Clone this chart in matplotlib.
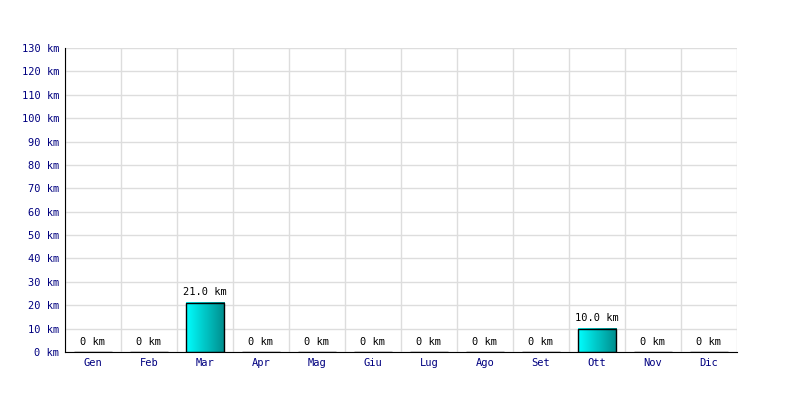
import matplotlib
matplotlib.use('Agg')
import matplotlib.pyplot as plt
import numpy as np

mesi = ['Gen', 'Feb', 'Mar', 'Apr', 'Mag', 'Giu', 'Lug', 'Ago', 'Set', 'Ott', 'Nov', 'Dic']
km = [0, 0, 21.0, 0, 0, 0, 0, 0, 0, 10.0, 0, 0]
yticks = list(range(0, 131, 10))

plt.rcParams['font.family'] = 'DejaVu Sans Mono'

fig = plt.figure(figsize=(8, 4), dpi=100)
ax = fig.add_axes([0.08125, 0.12, 0.84, 0.76])

x = np.arange(len(mesi))
larghezza = 0.68
bars = ax.bar(x, km, width=larghezza, facecolor='none', edgecolor='black', linewidth=1, zorder=3)

# riempimento sfumato ciano -> verde acqua
grad = np.linspace(0, 1, 256).reshape(1, -1)
cmap = matplotlib.colors.LinearSegmentedColormap.from_list('cy', ['#00ffff', '#008b8b'])
for b in bars:
    h = b.get_height()
    if h > 0:
        ax.imshow(grad, cmap=cmap, aspect='auto', zorder=2,
                  extent=[b.get_x(), b.get_x() + b.get_width(), 0, h])

for xi, v in zip(x, km):
    testo = '0 km' if v == 0 else f'{v:.1f} km'
    ax.annotate(testo, (xi, v), xytext=(0, 7.5), textcoords='offset points',
                ha='center', va='center', fontsize=7.5, color='black')

ax.set_xlim(-0.5, len(mesi) - 0.5)
ax.set_ylim(0, 130)
ax.set_xticks(x)
ax.set_xticklabels(mesi)
ax.set_xticks(np.arange(-0.5, len(mesi)), minor=True)
ax.set_yticks(yticks)
ax.set_yticklabels([f'{t} km' for t in yticks])
ax.tick_params(axis='both', length=0, labelsize=7.5, labelcolor='#000080', pad=4)
ax.tick_params(axis='x', which='minor', length=0)

ax.grid(axis='y', color='#dddddd', linewidth=1, zorder=0)
ax.grid(axis='x', which='minor', color='#dddddd', linewidth=1, zorder=0)
ax.grid(axis='x', which='major', visible=False)
ax.set_axisbelow(True)

for s in ['top', 'right']:
    ax.spines[s].set_visible(False)
ax.spines['left'].set_color('black')
ax.spines['bottom'].set_color('black')

fig.savefig('out.png', dpi=100)
